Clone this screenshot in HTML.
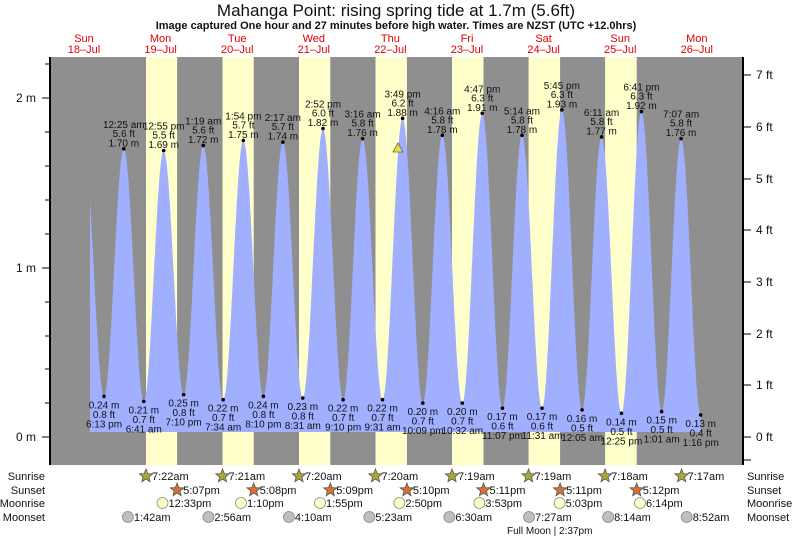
<!DOCTYPE html>
<html><head><meta charset="utf-8"><style>
html,body{margin:0;padding:0;background:#fff;}
svg{display:block;font-family:"Liberation Sans",sans-serif;}
</style></head><body>
<svg id="s" width="793" height="539" viewBox="0 0 793 539" xmlns="http://www.w3.org/2000/svg">
<rect x="0" y="0" width="793" height="539" fill="#fff"/>
<text x="396" y="16" font-size="17" text-anchor="middle" fill="#111">Mahanga Point: rising  spring tide at 1.7m (5.6ft)</text>
<text x="396" y="29" font-size="11" font-weight="bold" text-anchor="middle" fill="#111">Image captured One hour and 27 minutes before high water. Times are NZST (UTC +12.0hrs)</text>
<g font-size="11" fill="#e00000" text-anchor="middle">
<text x="84" y="42">Sun</text><text x="84" y="53">18–Jul</text>
<text x="160.6" y="42">Mon</text><text x="160.6" y="53">19–Jul</text>
<text x="237.2" y="42">Tue</text><text x="237.2" y="53">20–Jul</text>
<text x="313.8" y="42">Wed</text><text x="313.8" y="53">21–Jul</text>
<text x="390.4" y="42">Thu</text><text x="390.4" y="53">22–Jul</text>
<text x="467" y="42">Fri</text><text x="467" y="53">23–Jul</text>
<text x="543.6" y="42">Sat</text><text x="543.6" y="53">24–Jul</text>
<text x="620.2" y="42">Sun</text><text x="620.2" y="53">25–Jul</text>
<text x="696.8" y="42">Mon</text><text x="696.8" y="53">26–Jul</text>
</g>
<rect x="50" y="57" width="693" height="408" fill="#8f8f8f"/>
<g fill="#ffffcc">
<rect x="146" y="57" width="31.1" height="408"/>
<rect x="222.5" y="57" width="31.2" height="408"/>
<rect x="299" y="57" width="31.3" height="408"/>
<rect x="375.5" y="57" width="31.4" height="408"/>
<rect x="452" y="57" width="31.5" height="408"/>
<rect x="528.6" y="57" width="31.5" height="408"/>
<rect x="605.1" y="57" width="31.6" height="408"/>
</g>
<path id="tide" fill="#a0b0ff" d=""/>
<line x1="50" y1="57" x2="50" y2="465" stroke="#000" stroke-width="2"/>
<line x1="743" y1="57" x2="743" y2="465" stroke="#000" stroke-width="2"/>
<g stroke="#000" stroke-width="1">
<line x1="42" y1="98" x2="50" y2="98"/><line x1="42" y1="268" x2="50" y2="268"/><line x1="42" y1="437" x2="50" y2="437"/>
<line x1="45" y1="64" x2="50" y2="64"/><line x1="45" y1="132" x2="50" y2="132"/><line x1="45" y1="166" x2="50" y2="166"/><line x1="45" y1="200" x2="50" y2="200"/><line x1="45" y1="234" x2="50" y2="234"/><line x1="45" y1="302" x2="50" y2="302"/><line x1="45" y1="336" x2="50" y2="336"/><line x1="45" y1="369" x2="50" y2="369"/><line x1="45" y1="403" x2="50" y2="403"/>
<line x1="743" y1="75" x2="751" y2="75"/><line x1="743" y1="127" x2="751" y2="127"/><line x1="743" y1="179" x2="751" y2="179"/><line x1="743" y1="230" x2="751" y2="230"/><line x1="743" y1="282" x2="751" y2="282"/><line x1="743" y1="334" x2="751" y2="334"/><line x1="743" y1="385" x2="751" y2="385"/><line x1="743" y1="437" x2="751" y2="437"/><line x1="743" y1="460" x2="751" y2="460"/>
</g>
<g font-size="12" fill="#111">
<text x="36" y="102" text-anchor="end">2 m</text><text x="36" y="272" text-anchor="end">1 m</text><text x="36" y="441" text-anchor="end">0 m</text>
<text x="756" y="79">7 ft</text><text x="756" y="131">6 ft</text><text x="756" y="183">5 ft</text><text x="756" y="234">4 ft</text><text x="756" y="286">3 ft</text><text x="756" y="338">2 ft</text><text x="756" y="389">1 ft</text><text x="756" y="441">0 ft</text>
</g>
<g id="hi" font-size="10" fill="#111" text-anchor="middle"></g>
<polygon points="398,143 393,152 403,152" fill="#e8e040" stroke="#666" stroke-width="0.8"/>
<g font-size="11" fill="#111">
<text x="45" y="480" text-anchor="end">Sunrise</text><text x="45" y="494" text-anchor="end">Sunset</text><text x="45" y="507" text-anchor="end">Moonrise</text><text x="45" y="521" text-anchor="end">Moonset</text>
<text x="747" y="480">Sunrise</text><text x="747" y="494">Sunset</text><text x="747" y="507">Moonrise</text><text x="747" y="521">Moonset</text>
<text x="507" y="534" font-size="10">Full Moon | 2:37pm</text>
</g>
<g id="ev" font-size="11" fill="#111"></g>
</svg>
<script>
var NS="http://www.w3.org/2000/svg";
function X(t){return 45.9+t*3.19;}
function Y(h){return 437-h*169.5;}
var E=[[11.9,1.70],[18.22,0.24],[24.42,1.70],[30.68,0.21],[36.92,1.69],[43.17,0.25],[49.32,1.72],[55.57,0.22],[61.9,1.75],[68.17,0.24],[74.28,1.74],[80.52,0.23],[86.87,1.82],[93.17,0.22],[99.27,1.76],[105.52,0.22],[111.82,1.88],[118.15,0.20],[124.27,1.78],[130.53,0.20],[136.78,1.91],[143.12,0.17],[149.23,1.78],[155.52,0.17],[161.75,1.93],[168.08,0.16],[174.18,1.77],[180.42,0.14],[186.68,1.92],[193.02,0.15],[199.12,1.76],[205.27,0.13]];
var t0=(90-45.9)/3.19, d="M90,432 ";
for(var t=t0;t<=205.27;t+=0.1){
 for(var i=0;i<E.length-1;i++){if(t>=E[i][0]&&t<=E[i+1][0])break;}
 var a=E[i],b=E[i+1],f=(t-a[0])/(b[0]-a[0]);
 var h=a[1]+(b[1]-a[1])*(1-Math.cos(Math.PI*f))/2;
 d+="L"+X(t).toFixed(1)+","+Y(h).toFixed(1)+" ";
}
d+="L"+X(205.27).toFixed(1)+","+Y(0.13).toFixed(1)+" L700.7,432 Z";
document.getElementById("tide").setAttribute("d",d);
var L=[["12:25 am","5.6 ft","1.70 m",24.42,1.70,1],["0.24 m","0.8 ft","6:13 pm",18.22,0.24,0],
["12:55 pm","5.5 ft","1.69 m",36.92,1.69,1],["0.21 m","0.7 ft","6:41 am",30.68,0.21,0],
["1:19 am","5.6 ft","1.72 m",49.32,1.72,1],["0.25 m","0.8 ft","7:10 pm",43.17,0.25,0],
["1:54 pm","5.7 ft","1.75 m",61.9,1.75,1],["0.22 m","0.7 ft","7:34 am",55.57,0.22,0],
["2:17 am","5.7 ft","1.74 m",74.28,1.74,1],["0.24 m","0.8 ft","8:10 pm",68.17,0.24,0],
["2:52 pm","6.0 ft","1.82 m",86.87,1.82,1],["0.23 m","0.8 ft","8:31 am",80.52,0.23,0],
["3:16 am","5.8 ft","1.76 m",99.27,1.76,1],["0.22 m","0.7 ft","9:10 pm",93.17,0.22,0],
["3:49 pm","6.2 ft","1.88 m",111.82,1.88,1],["0.22 m","0.7 ft","9:31 am",105.52,0.22,0],
["4:16 am","5.8 ft","1.78 m",124.27,1.78,1],["0.20 m","0.7 ft","10:09 pm",118.15,0.20,0],
["4:47 pm","6.3 ft","1.91 m",136.78,1.91,1],["0.20 m","0.7 ft","10:32 am",130.53,0.20,0],
["5:14 am","5.8 ft","1.78 m",149.23,1.78,1],["0.17 m","0.6 ft","11:07 pm",143.12,0.17,0],
["5:45 pm","6.3 ft","1.93 m",161.75,1.93,1],["0.17 m","0.6 ft","11:31 am",155.52,0.17,0],
["6:11 am","5.8 ft","1.77 m",174.18,1.77,1],["0.16 m","0.5 ft","12:05 am",168.08,0.16,0],
["6:41 pm","6.3 ft","1.92 m",186.68,1.92,1],["0.14 m","0.5 ft","12:25 pm",180.42,0.14,0],
["7:07 am","5.8 ft","1.76 m",199.12,1.76,1],["0.15 m","0.5 ft","1:01 am",193.02,0.15,0],
["0.13 m","0.4 ft","1:16 pm",205.27,0.13,0]];
var g=document.getElementById("hi");
L.forEach(function(r){
 var x=X(r[3]),y=Y(r[4]);
 var c=document.createElementNS(NS,"circle");c.setAttribute("cx",x);c.setAttribute("cy",y);c.setAttribute("r",1.8);c.setAttribute("fill","#000");g.appendChild(c);
 var ys=r[5]?[y-21,y-12,y-2.5]:[y+12,y+21.5,y+31];
 for(var k=0;k<3;k++){var t=document.createElementNS(NS,"text");t.setAttribute("x",x);t.setAttribute("y",ys[k]);t.textContent=r[k];g.appendChild(t);}
});
var ev=document.getElementById("ev");
function star(x,y,fill){
 var p="";for(var k=0;k<10;k++){var r=k%2?3:7,a=-Math.PI/2+k*Math.PI/5;p+=(x+r*Math.cos(a)).toFixed(1)+","+(y+r*Math.sin(a)).toFixed(1)+" ";}
 var s=document.createElementNS(NS,"polygon");s.setAttribute("points",p);s.setAttribute("fill",fill);s.setAttribute("stroke","#555");s.setAttribute("stroke-width","0.8");ev.appendChild(s);
}
function circ(x,y,fill){var c=document.createElementNS(NS,"circle");c.setAttribute("cx",x);c.setAttribute("cy",y);c.setAttribute("r",5.5);c.setAttribute("fill",fill);c.setAttribute("stroke","#888");c.setAttribute("stroke-width","0.8");ev.appendChild(c);}
function txt(x,y,s){var t=document.createElementNS(NS,"text");t.setAttribute("x",x);t.setAttribute("y",y);t.textContent=s;ev.appendChild(t);}
[[146,"7:22am"],[222.5,"7:21am"],[299,"7:20am"],[375.5,"7:20am"],[452,"7:19am"],[528.6,"7:19am"],[605.1,"7:18am"],[681.6,"7:17am"]].forEach(function(e){star(e[0],476,"#a8a838");txt(e[0]+6,480,e[1]);});
[[177.1,"5:07pm"],[253.7,"5:08pm"],[330.3,"5:09pm"],[406.9,"5:10pm"],[483.5,"5:11pm"],[560.1,"5:11pm"],[636.7,"5:12pm"]].forEach(function(e){star(e[0],490,"#d87030");txt(e[0]+6,494,e[1]);});
[[162.5,"12:33pm"],[241,"1:10pm"],[320,"1:55pm"],[399.4,"2:50pm"],[479.4,"3:53pm"],[559.6,"5:03pm"],[640,"6:14pm"]].forEach(function(e){circ(e[0],503,"#ffffc8");txt(e[0]+6,507,e[1]);});
[[127.9,"1:42am"],[208.4,"2:56am"],[288.9,"4:10am"],[369.3,"5:23am"],[449.4,"6:30am"],[529,"7:27am"],[608.1,"8:14am"],[686.7,"8:52am"]].forEach(function(e){circ(e[0],517,"#c0c0b8");txt(e[0]+6,521,e[1]);});
</script>
</body></html>
